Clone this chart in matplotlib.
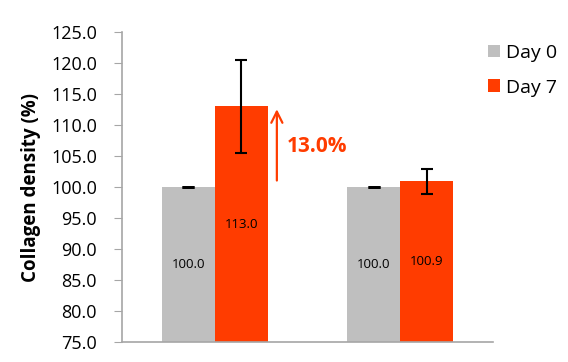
import numpy as np
import matplotlib.pyplot as plt

plt.rcParams['font.family'] = ['Open Sans', 'DejaVu Sans']

# datos
grupos = [0, 1]
day0 = [100.0, 100.0]
day7 = [113.0, 100.9]
err0 = [0.0, 0.0]
err7 = [7.5, 2.0]
series = ['Day 0', 'Day 7']
aumento = '13.0%'

gris = '#BFBFBF'
naranja = '#FF3C00'
w = 0.285
x = np.array(grupos)

fig = plt.figure(figsize=(5.68, 3.62), dpi=100)
ax = fig.add_axes([0.2148, 0.0552, 0.653, 0.8564])

ax.bar(x - w / 2, day0, w, color=gris, label=series[0], zorder=2)
ax.bar(x + w / 2, day7, w, color=naranja, label=series[1], zorder=2)
ax.errorbar(x - w / 2, day0, yerr=err0, fmt='none', ecolor='black',
            elinewidth=1.5, capsize=4, capthick=2, zorder=3)
ax.errorbar(x + w / 2, day7, yerr=err7, fmt='none', ecolor='black',
            elinewidth=1.5, capsize=4, capthick=1.5, zorder=3)

ymin, ymax = 75, 125
for xi, v in zip(x - w / 2, day0):
    ax.text(xi, (ymin + v) / 2, f'{v:.1f}', ha='center', va='center', fontsize=9.5)
for xi, v in zip(x + w / 2, day7):
    ax.text(xi, (ymin + v) / 2, f'{v:.1f}', ha='center', va='center', fontsize=9.5)

# flecha de aumento
ax.annotate('', xy=(w + 0.05, day7[0]), xytext=(w + 0.05, day0[0] + 0.6),
            arrowprops=dict(arrowstyle='->', color=naranja, lw=1.6, mutation_scale=20))
ax.text(w + 0.105, (day0[0] + day7[0]) / 2, aumento, color=naranja,
        fontsize=15, fontweight='bold', ha='left', va='center')

ax.set_xlim(-0.5, 1.5)
ax.set_ylim(ymin, ymax)
ax.set_yticks(np.arange(75, 126, 5))
ax.set_yticklabels([f'{t:.1f}' for t in np.arange(75, 126, 5)], fontsize=13)
ax.set_xticks([])
ax.set_ylabel('Collagen density (%)', fontsize=13.5, fontweight='bold', labelpad=7)
for s in ['top', 'right']:
    ax.spines[s].set_visible(False)
for s in ['left', 'bottom']:
    ax.spines[s].set_color('#A6A6A6')
    ax.spines[s].set_linewidth(1.2)
ax.tick_params(axis='y', length=6, color='#A6A6A6', pad=12)

fig.legend(loc='upper left', bbox_to_anchor=(0.845, 0.9), frameon=False, fontsize=14,
           handlelength=0.62, handleheight=0.62, handletextpad=0.3, labelspacing=0.85,
           borderaxespad=0)

plt.savefig('out.png', dpi=100)
